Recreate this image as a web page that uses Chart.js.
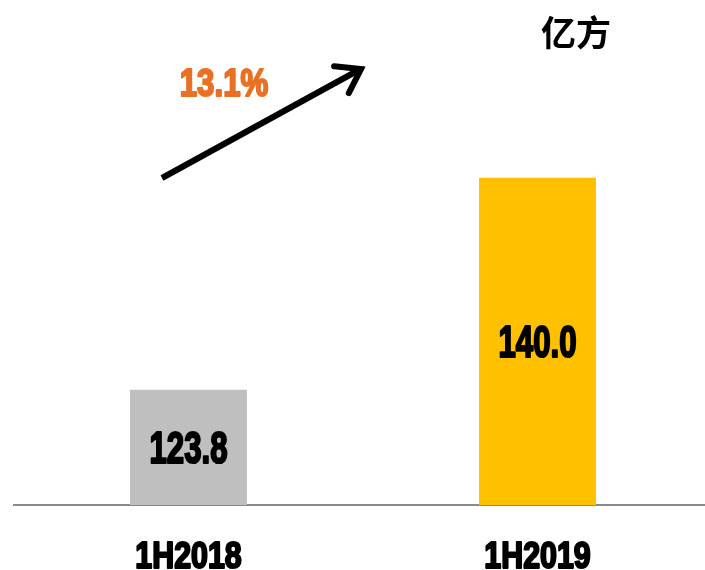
<!DOCTYPE html>
<html>
<head>
<meta charset="utf-8">
<script src="https://cdn.jsdelivr.net/npm/chart.js@4/dist/chart.umd.min.js"></script>
<style>
  html, body { margin: 0; padding: 0; background: #fff; overflow: hidden; }
  #wrap { position: relative; width: 720px; height: 570px; }
</style>
</head>
<body>
<div id="wrap"><canvas id="grafico" width="720" height="570"></canvas></div>
<script>
// dados
const periodos = ['1H2018', '1H2019'];
const volumes = [123.8, 140.0];
const coresBarras = ['#BFBFBF', '#FFC000'];
const crescimento = '13.1%';
const unidade = '亿方';

const FONTE_NUM = '"Liberation Sans", Arial, sans-serif';

// texto "pesado" estilo Impact: preenche + contorno, comprimido na horizontal
function textoPesado(ctx, txt, x, y, tam, cor, escalaX) {
  ctx.save();
  ctx.translate(x, y);
  ctx.scale(escalaX, 1);
  ctx.font = 'bold ' + tam + 'px ' + FONTE_NUM;
  ctx.textAlign = 'center';
  ctx.textBaseline = 'alphabetic';
  ctx.fillStyle = cor;
  ctx.strokeStyle = cor;
  ctx.lineWidth = 2.2;
  ctx.lineJoin = 'round';
  ctx.fillText(txt, 0, 0);
  ctx.strokeText(txt, 0, 0);
  ctx.restore();
}

const rotulos = {
  id: 'rotulos',
  afterDraw(chart) {
    const ctx = chart.ctx;
    const meta = chart.getDatasetMeta(0);
    const xs = chart.scales.x;
    const area = chart.chartArea;

    // valores dentro das barras
    meta.data.forEach((bar, i) => {
      const p = bar.getProps(['x', 'y'], true);
      const meio = (p.y + area.bottom) / 2;
      textoPesado(ctx, volumes[i].toFixed(1), p.x, meio + 16, 44, '#000', 0.71);
    });

    // categorias abaixo do eixo
    periodos.forEach((nome, i) => {
      textoPesado(ctx, nome, xs.getPixelForTick(i), area.bottom + 63, 37, '#000', 0.82);
    });

    // seta de crescimento
    const x0 = area.left + 148, y0 = area.top + 131;
    const x1 = area.left + 347, y1 = area.top + 22;
    ctx.save();
    ctx.strokeStyle = '#000';
    ctx.lineWidth = 6;
    ctx.lineCap = 'butt';
    ctx.beginPath();
    ctx.moveTo(x0, y0);
    ctx.lineTo(x1 - 4, y1 + 2);
    ctx.stroke();
    const ang = Math.atan2(y1 - y0, x1 - x0);
    const L = 27;
    ctx.lineJoin = 'miter';
    ctx.lineCap = 'round';
    ctx.beginPath();
    ctx.moveTo(x1 - L * Math.cos(ang - 0.6), y1 - L * Math.sin(ang - 0.6));
    ctx.lineTo(x1, y1);
    ctx.lineTo(x1 - L * Math.cos(ang + 0.6), y1 - L * Math.sin(ang + 0.6));
    ctx.stroke();
    ctx.restore();

    textoPesado(ctx, crescimento, area.left + 210, area.top + 49, 39, '#E97123', 0.80);

    ctx.save();
    ctx.font = 'bold 35px "Noto Sans CJK SC", sans-serif';
    ctx.textAlign = 'center';
    ctx.textBaseline = 'alphabetic';
    ctx.fillStyle = '#000';
    ctx.fillText(unidade, 576, 46);
    ctx.restore();
  }
};

new Chart(document.getElementById('grafico'), {
  type: 'bar',
  data: {
    labels: periodos,
    datasets: [{
      data: volumes,
      backgroundColor: coresBarras,
      borderWidth: 0,
      categoryPercentage: 1,
      barPercentage: 0.335
    }]
  },
  options: {
    responsive: false,
    animation: false,
    events: [],
    layout: { padding: { left: 14, right: 8, top: 47, bottom: 65 } },
    plugins: { legend: { display: false }, tooltip: { enabled: false } },
    scales: {
      x: {
        display: true,
        ticks: { display: false },
        grid: { display: false, drawTicks: false },
        border: { display: true, color: '#898989', width: 2 }
      },
      y: {
        display: false,
        min: 115,
        max: 150
      }
    }
  },
  plugins: [rotulos]
});
</script>
</body>
</html>
